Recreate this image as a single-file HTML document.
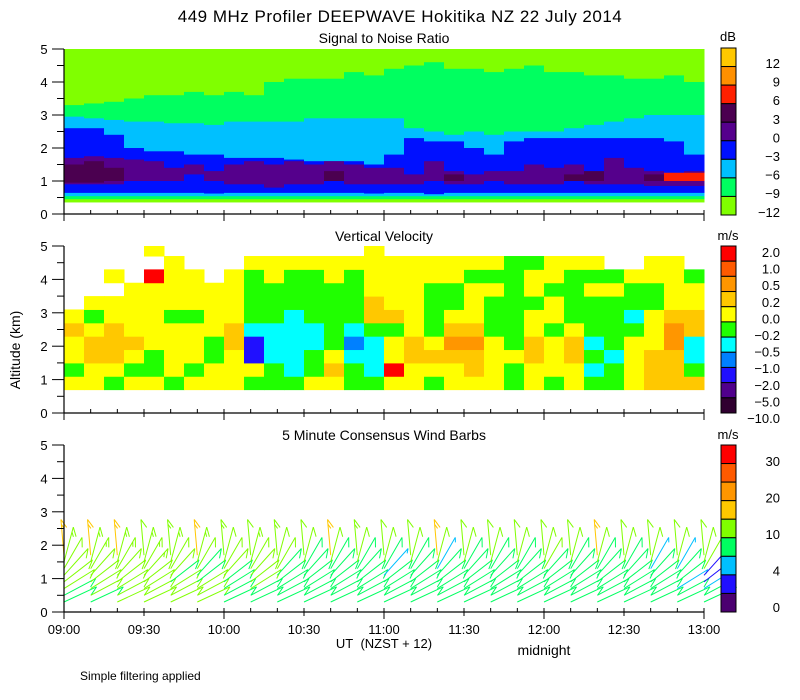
<!DOCTYPE html>
<html><head><meta charset="utf-8"><style>
body{margin:0;background:#fff;}
svg{display:block;font-family:"Liberation Sans",sans-serif;}
</style></head><body>
<svg id="chart" width="800" height="700" viewBox="0 0 800 700">
<rect width="800" height="700" fill="#fff"/>
<g id="snr"></g>
<g id="vv"></g>
<g id="wind"></g>
<g id="axes"></g>
<g id="cbars"></g>
<text x="400" y="22" text-anchor="middle" font-size="17" letter-spacing="0.5">449 MHz Profiler DEEPWAVE Hokitika NZ 22 July 2014</text>
<text x="384" y="43" text-anchor="middle" font-size="14">Signal to Noise Ratio</text>
<text x="384" y="241" text-anchor="middle" font-size="14">Vertical Velocity</text>
<text x="384" y="440" text-anchor="middle" font-size="14">5 Minute Consensus Wind Barbs</text>
<text transform="translate(20,350) rotate(-90)" text-anchor="middle" font-size="14">Altitude (km)</text>
<text x="384" y="648" text-anchor="middle" font-size="13">UT&#160;&#160;(NZST + 12)</text>
<text x="544" y="655" text-anchor="middle" font-size="14">midnight</text>
<text x="80" y="680" font-size="12">Simple filtering applied</text>
</svg>
<script>
// ---- SNR data (km boundaries per 7.5-min column) ----
const snrTimes=[0,7.5,15,22.5,30,37.5,45,52.5,60,67.5,75,82.5,90,97.5,105,112.5,120,127.5,135,142.5,150,157.5,165,172.5,180,187.5,195,202.5,210,217.5,225,232.5];
const greenTop=[3.3,3.35,3.4,3.5,3.6,3.6,3.7,3.6,3.7,3.6,4.0,4.1,4.1,4.1,4.3,4.2,4.4,4.5,4.6,4.4,4.4,4.3,4.4,4.5,4.3,4.3,4.2,4.2,4.1,4.1,4.2,4.0];
const lblueTop=[2.95,2.9,2.85,2.8,2.8,2.75,2.75,2.7,2.8,2.8,2.8,2.8,2.9,2.9,2.9,2.9,2.9,2.6,2.5,2.4,2.5,2.4,2.5,2.5,2.5,2.6,2.7,2.8,2.9,3.0,3.0,3.0];
const blueTop=[2.6,2.6,2.4,2.0,1.9,1.9,1.8,1.8,1.7,1.7,1.7,1.65,1.6,1.6,1.6,1.5,1.8,2.3,2.2,2.2,2.0,1.8,2.2,2.3,2.3,2.3,2.3,2.3,2.3,2.3,2.2,1.8];
const purpTop=[1.7,1.75,1.7,1.65,1.6,1.4,1.5,1.3,1.5,1.6,1.5,1.6,1.5,1.6,1.5,1.4,1.4,1.2,1.6,1.3,1.2,1.3,1.3,1.5,1.4,1.5,1.2,1.7,1.4,1.3,1.2,1.3];
const purpBot=[0.9,0.9,0.9,1.0,1.0,1.0,1.2,1.0,0.9,0.9,0.8,0.9,0.9,1.0,0.9,0.9,0.9,0.9,1.0,0.9,0.9,1.0,0.9,0.9,0.9,1.0,0.9,0.9,0.9,0.85,0.85,0.85];
const darkTop=[1.5,1.6,1.4,0,0,0,0,0,0,0,0,0,0,1.3,0,0,0,0,0,1.2,0,0,0,0,0,1.2,1.3,0,0,1.2,0,0];
const darkBot=[0.95,0.95,1.0,0,0,0,0,0,0,0,0,0,0,1.0,0,0,0,0,0,1.0,0,0,0,0,0,1.0,1.0,0,0,1.0,0,0];
const redTop=[0,0,0,0,0,0,0,0,0,0,0,0,0,0,0,0,0,0,0,0,0,0,0,0,0,0,0,0,0,0,1.25,1.25];
const redBot=[0,0,0,0,0,0,0,0,0,0,0,0,0,0,0,0,0,0,0,0,0,0,0,0,0,0,0,0,0,0,1.0,1.0];
const blueBot=[0.64,0.64,0.64,0.64,0.64,0.64,0.64,0.62,0.64,0.64,0.64,0.64,0.64,0.64,0.64,0.62,0.64,0.64,0.6,0.64,0.64,0.64,0.64,0.64,0.64,0.64,0.64,0.64,0.64,0.64,0.64,0.64];
const lblueBot=[0.54,0.54,0.54,0.54,0.54,0.54,0.54,0.54,0.54,0.54,0.54,0.54,0.54,0.54,0.54,0.54,0.54,0.54,0.54,0.54,0.54,0.54,0.54,0.54,0.54,0.54,0.54,0.54,0.54,0.54,0.54,0.54];
const greenBot=[0.45,0.45,0.45,0.45,0.45,0.45,0.45,0.45,0.45,0.45,0.45,0.45,0.45,0.45,0.45,0.45,0.45,0.45,0.45,0.45,0.45,0.45,0.45,0.45,0.45,0.45,0.45,0.45,0.45,0.45,0.45,0.45];
const limeBot=[0.35,0.35,0.35,0.35,0.35,0.35,0.35,0.35,0.35,0.35,0.35,0.35,0.35,0.35,0.35,0.35,0.35,0.35,0.35,0.35,0.35,0.35,0.35,0.35,0.35,0.35,0.35,0.35,0.35,0.35,0.35,0.35];
const snrColWidthMin=7.5;

// ---- Vertical velocity (m/s) per 7.5-min column, rows bottom->top ----
const vvTimes=snrTimes;
const vvHeights=[0.7,1.1,1.5,1.9,2.3,2.7,3.1,3.5,3.9,4.3,4.7];
const vvRowKm=0.4;
const vvValues=[
[.1,-.1,.1,.1,.3,.1,null,null,null,null,null],
[.1,.1,.3,.3,.1,-.1,.1,null,null,null,null],
[-.1,.1,.3,.3,.3,.1,.1,null,.1,null,null],
[.1,-.1,.1,.3,.1,.1,.1,.1,null,null,null],
[.1,-.1,-.1,.1,.1,.1,.1,.1,2.5,null,.1],
[-.1,.1,.1,.1,.1,-.1,.1,.1,.1,.1,null],
[.1,-.1,.1,.1,.1,-.1,.1,.1,.1,null,null],
[.1,.1,-.1,-.1,.1,.1,.1,.1,null,null,null],
[.1,.1,.1,.3,.3,.1,.1,.1,.1,null,null],
[-.1,.1,-2,-2,-.3,-.1,-.1,-.1,-.1,.1,null],
[-.1,-.1,-.3,-.3,-.3,-.1,-.1,-.1,.1,.1,null],
[-.1,-.3,-.3,-.3,-.3,-.3,-.1,-.1,-.1,.1,null],
[.1,-.1,-.1,-.3,-.3,-.1,-.1,-.1,-.1,.1,null],
[.1,.3,.1,-.1,-.1,-.1,-.1,-.1,.1,.1,null],
[-.1,-.1,-.3,-.7,-.3,-.1,-.1,-.1,-.1,.1,null],
[-.1,-.3,-.3,-.3,-.1,.3,.3,.1,.1,.1,.1],
[.1,2.5,.1,.1,-.1,.3,.1,.1,.1,.1,null],
[.1,.1,.3,.3,.1,.1,.1,.1,.1,.1,null],
[-.1,.1,.3,.1,-.1,-.1,-.1,-.1,.1,.1,null],
[.1,.1,.3,.7,.3,.1,-.1,-.1,.1,.1,null],
[.1,.3,.3,.7,.3,.1,.1,.1,-.1,.1,null],
[.1,.1,.1,.1,-.1,-.1,-.1,.1,-.1,.1,null],
[-.1,-.1,.1,-.1,-.1,-.1,-.1,-.1,-.1,-.1,null],
[.1,.1,.3,.3,.1,.1,-.1,.1,.1,-.1,null],
[-.1,.1,.1,.1,-.1,.1,.1,-.1,.1,.1,null],
[.1,.1,.3,.3,.1,-.1,-.1,-.1,-.1,.1,null],
[-.1,-.3,-.1,-.3,-.1,-.1,-.1,.1,-.1,.1,null],
[-.1,-.1,-.3,-.1,-.1,-.1,-.1,.1,-.1,null,null],
[.1,.1,.1,.1,-.1,-.3,-.1,-.1,.1,null,null],
[.3,.3,.3,.1,.1,.1,-.1,-.1,.1,.1,null],
[.3,.3,.3,.7,.7,.3,.1,.1,.1,.1,null],
[.3,-.1,-.3,-.3,.3,.3,.1,.1,-.1,null,null]];

// ---- Wind barbs ----
const windTimes=[0,10,20,30,40,50,60,70,80,90,100,110,120,130,140,150,160,170,180,190,200,210,220,230,240];
const windHeights=[0.3,0.5,0.7,0.9,1.1,1.3,1.5,1.7];
const windDirs=[25,28,32,38,48,60,75,95];
const windSpeeds=[
[9,9,10,11,11,12,13,17],[9,10,11,12,12,13,13,16],[10,11,11,12,12,13,14,17],[11,11,11,12,13,13,13,12],
[11,10,10,9,12,12,13,13],[11,11,10,9,9,12,13,17],[9,9,9,9,10,12,12,13],[9,9,10,10,12,12,13,12],
[8,9,9,9,9,11,12,13],[8,8,9,9,9,9,11,12],[8,8,9,9,9,9,12,17],[8,9,9,9,9,9,12,13],
[9,9,9,9,6,9,11,12],[8,8,9,9,9,9,11,12],[8,8,9,9,9,6,11,17],[8,9,9,9,9,9,11,12],
[8,8,9,9,9,9,11,12],[8,9,9,9,9,9,11,12],[8,8,9,9,9,11,11,12],[8,8,9,9,9,9,11,12],
[8,9,9,9,9,9,11,17],[8,8,9,9,9,9,11,12],[8,9,9,9,9,6,11,12],[8,8,6,9,9,6,11,12],
[8,9,6,3,3,11,12,12]];

// ---- colour scales & ticks ----
const snrColors=['#ffc800','#ff9000','#ff2000','#4b0050','#55008c','#0010ff','#00c0ff','#00ff60','#80ff00'];
const snrLabels=['12','9','6','3','0','\u22123','\u22126','\u22129','\u221212'];
const vvBounds=[2,1,0.5,0.2,0,-0.2,-0.5,-1,-2,-5];
const vvColors=['#ff0000','#ff5a00','#ff9600','#ffc800','#ffff00','#20ff00','#00ffff','#0080ff','#2010ff','#50008c','#300030'];
const vvLabels=['2.0','1.0','0.5','0.2','0.0','\u22120.2','\u22120.5','\u22121.0','\u22122.0','\u22125.0','\u221210.0'];
const wBounds=[30,25,20,15,10,7,4,2];
const wColors=['#ff0000','#ff5a00','#ff9600','#ffc800','#80ff00','#00ff60','#00c0ff','#2010ff','#4b0070'];
const wLabels=['30','20','10','4','0'];
const xTickLabels=['09:00','09:30','10:00','10:30','11:00','11:30','12:00','12:30','13:00'];
const yTickLabels=['0','1','2','3','4','5'];

const NS='http://www.w3.org/2000/svg';
const X0=64,X1=704,TMAX=240;
const panels=[{y0:214,y5:49},{y0:413,y5:246},{y0:612,y5:445}];
function xs(t){return X0+t*(X1-X0)/TMAX;}
function ys(p,h){const P=panels[p];return P.y0+(P.y5-P.y0)*h/5;}
function mk(tag,attrs,parent){const e=document.createElementNS(NS,tag);for(const k in attrs)e.setAttribute(k,attrs[k]);parent.appendChild(e);return e;}

// SNR draw
const gS=document.getElementById('snr');
function band(i,lo,hi,col,name){
  if(hi<=lo)return;
  const x=xs(snrTimes[i]),w=xs(snrTimes[i]+snrColWidthMin)-x;
  const r=mk('rect',{x:x,y:ys(0,hi),width:w+0.5,height:ys(0,lo)-ys(0,hi),fill:col},gS);
  
  
}
for(let i=0;i<snrTimes.length;i++){
  band(i,limeBot[i],5,snrColors[8],'snr-band-minus12');
  band(i,greenBot[i],greenTop[i],snrColors[7],'snr-band-minus9');
  band(i,lblueBot[i],lblueTop[i],snrColors[6],'snr-band-minus6');
  band(i,blueBot[i],blueTop[i],snrColors[5],'snr-band-minus3');
  band(i,purpBot[i],purpTop[i],snrColors[4],'snr-band-0');
  band(i,darkBot[i],darkTop[i],snrColors[3],'snr-band-3');
  band(i,redBot[i],redTop[i],snrColors[2],'snr-band-6');
}
// VV draw
const gV=document.getElementById('vv');
function vvColor(v){for(let k=0;k<vvBounds.length;k++){if(v>=vvBounds[k])return vvColors[k];}return vvColors[10];}
for(let i=0;i<vvTimes.length;i++){
  for(let j=0;j<vvHeights.length;j++){
    const v=vvValues[i][j];if(v===null)continue;
    const x=xs(vvTimes[i]),w=xs(vvTimes[i]+snrColWidthMin)-x;
    const top=Math.min(5,vvHeights[j]+vvRowKm);
    const r=mk('rect',{x:x,y:ys(1,top),width:w+0.5,height:ys(1,vvHeights[j])-ys(1,top)+0.5,fill:vvColor(v)},gV);
    
    
  }
}
// Wind barbs
const gW=document.getElementById('wind');
function wColor(s){for(let k=0;k<wBounds.length;k++){if(s>=wBounds[k])return wColors[k];}return wColors[8];}
const STAFF=36;
for(let i=0;i<windTimes.length;i++){
  for(let j=0;j<windHeights.length;j++){
    const s=windSpeeds[i][j];if(s===null)continue;
    const x=xs(windTimes[i]),y=ys(2,windHeights[j]);
    const a=windDirs[j]*Math.PI/180;
    const dx=Math.cos(a),dy=-Math.sin(a);
    const tx=x+dx*STAFF,ty=y+dy*STAFF;
    let d='M'+x.toFixed(1)+' '+y.toFixed(1)+'L'+tx.toFixed(1)+' '+ty.toFixed(1);
    const fa=a-2.6,fdx=Math.cos(fa),fdy=-Math.sin(fa);
    let n=Math.round(s/5),pos=0;
    while(n>0){
      const L=n>=2?10:5;
      const bx=tx-dx*pos,by=ty-dy*pos;
      d+='M'+bx.toFixed(1)+' '+by.toFixed(1)+'L'+(bx+fdx*L).toFixed(1)+' '+(by+fdy*L).toFixed(1);
      n-=2;pos+=5;
    }
    const p=mk('path',{d:d,stroke:wColor(s),'stroke-width':1,fill:'none'},gW);
    
    
  }
}
// Axes
const gA=document.getElementById('axes');
for(let p=0;p<3;p++){
  const P=panels[p];
  mk('line',{x1:X0,y1:P.y0,x2:X1,y2:P.y0,stroke:'#000','stroke-width':1.2},gA);
  mk('line',{x1:X0,y1:P.y0,x2:X0,y2:P.y5,stroke:'#000','stroke-width':1.2},gA);
  for(let k=0;k<=10;k++){
    const y=ys(p,k*0.5);const maj=k%2===0;
    mk('line',{x1:maj?52:57,y1:y,x2:X0,y2:y,stroke:'#000','stroke-width':1},gA);
  }
  yTickLabels.forEach((lab,k)=>{
    const t=mk('text',{x:44,y:ys(p,k)+5,'text-anchor':'middle','font-size':13},gA);t.textContent=lab;
    
    
  });
  for(let m=0;m<=TMAX;m+=10){
    const x=xs(m);const maj=m%30===0;
    mk('line',{x1:x,y1:P.y0-4,x2:x,y2:maj?P.y0+(m%60===0?7:4):P.y0,stroke:'#000','stroke-width':1},gA);
  }
}
xTickLabels.forEach((lab,k)=>{
  const t=mk('text',{x:xs(k*30),y:634,'text-anchor':'middle','font-size':13},gA);t.textContent=lab;
  
  
});
// Colorbars
const gC=document.getElementById('cbars');
function cbar(top,bot,colors,labels,ly0,lstep,unit,uy,name){
  const h=(bot-top)/colors.length;
  colors.forEach((c,k)=>{
    const r=mk('rect',{x:721,y:top+k*h,width:15,height:h,fill:c,stroke:'#000','stroke-width':1},gC);
    
    
  });
  labels.forEach((l,k)=>{
    const t=mk('text',{x:780,y:ly0+k*lstep+5,'text-anchor':'end','font-size':13},gC);t.textContent=l;
    
    
  });
  const u=mk('text',{x:728,y:uy,'text-anchor':'middle','font-size':13},gC);u.textContent=unit;
  
  
}
cbar(48,215,snrColors,snrLabels,63,18.6,'dB',41,'snr-colorbar');
cbar(246,413,vvColors,vvLabels,252,16.6,'m/s',240,'vv-colorbar');
cbar(445,612,wColors,wLabels,461,36.5,'m/s',439,'wind-colorbar');
</script>
</body></html>
